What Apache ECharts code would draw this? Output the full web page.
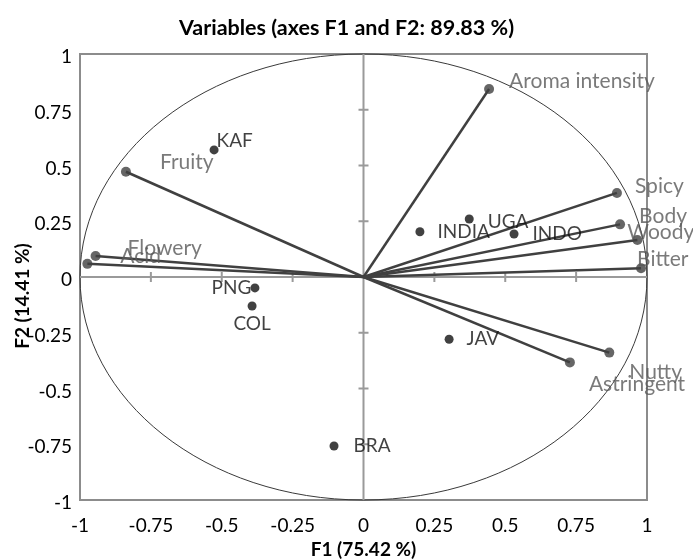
<!DOCTYPE html>
<html>
<head>
<meta charset="utf-8">
<script src="https://cdn.jsdelivr.net/npm/echarts@6/dist/echarts.min.js"></script>
<style>html,body{margin:0;padding:0;background:#fff;}#c{width:693px;height:559px;}</style>
</head>
<body>
<div id="c"></div>
<script>
// ---- data ----
var variableNames = ['Aroma intensity','Spicy','Body','Woody','Bitter','Fruity','Flowery','Acid','Nutty','Astringent'];
var variableF1 = [0.443, 0.894, 0.905, 0.966, 0.979, -0.838, -0.945, -0.974, 0.867, 0.728];
var variableF2 = [0.843, 0.377, 0.236, 0.166, 0.039, 0.472, 0.094, 0.059, -0.339, -0.383];

var obsNames = ['KAF','INDIA','UGA','INDO','PNG','COL','JAV','BRA'];
var obsF1 = [-0.527, 0.199, 0.373, 0.531, -0.383, -0.393, 0.302, -0.104];
var obsF2 = [0.570, 0.203, 0.260, 0.193, -0.049, -0.130, -0.279, -0.758];

var tickValues = [-1, -0.75, -0.5, -0.25, 0, 0.25, 0.5, 0.75, 1];

// ---- label layout (pixels) ----
var varLabelOffset = [[15,-8],[13,-7],[14,-8],[-15,-8],[-9,-9],[29,-10],[27,-8],[28,-8],[15,20],[14,22]];
var obsLabelPos = ['right','right','right','right','left','bottom','right','right'];
var obsLabelOffset = [[-2,-9],[13,0],[14,3],[14,0],[1,0],[0,0],[13,0],[15,0]];

var FONT = 'Lato';
var chart = echarts.init(document.getElementById('c'));

var varData = variableNames.map(function (n, i) {
  return {
    value: [variableF1[i], variableF2[i]], name: n,
    label: {position: 'right', distance: 0, offset: varLabelOffset[i]}
  };
});
var obsData = obsNames.map(function (n, i) {
  return {
    value: [obsF1[i], obsF2[i]], name: n,
    label: {position: obsLabelPos[i], distance: obsLabelPos[i] === 'bottom' ? 4 : 0, offset: obsLabelOffset[i]}
  };
});

chart.setOption({
  animation: false,
  backgroundColor: '#fff',
  title: {
    text: 'Variables (axes F1 and F2: 89.83 %)',
    left: 'center', top: 12,
    textStyle: {fontFamily: FONT, fontWeight: 'bold', fontSize: 21.5, color: '#000'}
  },
  grid: {left: 80, right: 46, top: 54, bottom: 59, show: true, borderColor: '#8c8c8c', borderWidth: 2, backgroundColor: 'transparent', outerBoundsMode: 'none', containLabel: false},
  xAxis: {
    type: 'value', min: -1, max: 1, interval: 0.25,
    name: 'F1 (75.42 %)', nameLocation: 'middle', nameGap: 40,
    nameTextStyle: {fontFamily: FONT, fontWeight: 'bold', fontSize: 19, color: '#000'},
    axisLine: {show: false}, axisTick: {show: false}, splitLine: {show: false},
    axisLabel: {fontFamily: FONT, fontSize: 19, color: '#000', margin: 16}
  },
  yAxis: {
    type: 'value', min: -1, max: 1, interval: 0.25,
    axisLine: {show: false}, axisTick: {show: false}, splitLine: {show: false},
    axisLabel: {
      fontFamily: FONT, fontSize: 19, color: '#000', margin: 8,
      formatter: function (v) { return '{v|' + v + '}'; },
      rich: {v: {fontFamily: FONT, fontSize: 19, color: '#000', padding: [6, 0, 0, 0]}}
    }
  },
  graphic: [{
    type: 'text', x: 23, y: 296, rotation: Math.PI / 2,
    style: {text: 'F2 (14.41 %)', fontFamily: FONT, fontWeight: 'bold', fontSize: 19, fill: '#000', align: 'center', verticalAlign: 'middle'}
  }],
  series: [
    {
      type: 'custom', silent: true, z: 1,
      data: [[0, 0]],
      renderItem: function (params, api) {
        var c = api.coord([0, 0]);
        var s = api.size([1, 1]);
        return {type: 'ellipse', shape: {cx: c[0], cy: c[1], rx: s[0], ry: s[1]}, style: {fill: null, stroke: '#3a3a3a', lineWidth: 1}};
      }
    },
    {
      type: 'custom', silent: true, z: 2,
      data: [[0, 0]],
      renderItem: function (params, api) {
        var o = api.coord([0, 0]);
        var l = api.coord([-1, -1]);
        var r = api.coord([1, 1]);
        var st = {stroke: '#9a9a9a', lineWidth: 2};
        var ch = [
          {type: 'line', shape: {x1: l[0], y1: o[1], x2: r[0], y2: o[1]}, style: st},
          {type: 'line', shape: {x1: o[0], y1: l[1], x2: o[0], y2: r[1]}, style: st}
        ];
        tickValues.forEach(function (t) {
          if (t === 0 || Math.abs(t) === 1) return;
          var px = api.coord([t, 0]);
          var py = api.coord([0, t]);
          ch.push({type: 'line', shape: {x1: px[0], y1: o[1] - 5, x2: px[0], y2: o[1] + 5}, style: st});
          ch.push({type: 'line', shape: {x1: o[0] - 5, y1: py[1], x2: o[0] + 5, y2: py[1]}, style: st});
        });
        return {type: 'group', children: ch};
      }
    },
    {
      type: 'custom', silent: true, z: 3,
      data: variableNames.map(function (n, i) { return [variableF1[i], variableF2[i]]; }),
      renderItem: function (params, api) {
        var o = api.coord([0, 0]);
        var p = api.coord([api.value(0), api.value(1)]);
        return {type: 'line', shape: {x1: o[0], y1: o[1], x2: p[0], y2: p[1]}, style: {stroke: '#404040', lineWidth: 2.5}};
      }
    },
    {
      type: 'scatter', z: 4, symbol: 'circle', symbolSize: 10,
      itemStyle: {color: '#404040'},
      label: {show: true, formatter: '{b}', fontFamily: FONT, fontSize: 21, color: '#595959'},
      data: varData
    },
    {
      type: 'scatter', z: 5, symbol: 'circle', symbolSize: 9,
      itemStyle: {color: '#111'},
      label: {show: true, formatter: '{b}', fontFamily: FONT, fontSize: 19, color: '#111'},
      data: obsData
    }
  ]
});
</script>
</body>
</html>
